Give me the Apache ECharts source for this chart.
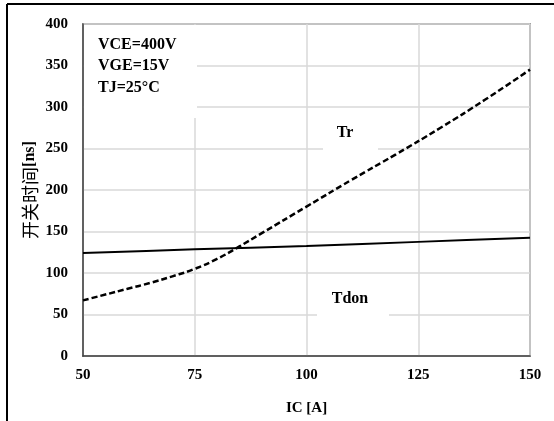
<!DOCTYPE html>
<html>
<head>
<meta charset="utf-8">
<script src="https://cdn.jsdelivr.net/npm/echarts@6/dist/echarts.min.js"></script>
<style>html,body{margin:0;padding:0;background:#fff;}#c{width:554px;height:421px;}</style>
</head>
<body>
<div id="c"></div>
<script>
// Data
var trX = [50, 55, 60, 65, 70, 75, 80, 85, 90, 100, 110, 120, 130, 140, 150];
var trY = [67, 74, 81, 88, 96, 105, 117, 132, 148, 180, 212, 243, 275, 309, 345];
var tdonX = [50, 75, 100, 125, 150];
var tdonY = [124, 128.5, 132.5, 137.5, 142.5];
var xTicks = [50, 75, 100, 125, 150];
var yTicks = [0, 50, 100, 150, 200, 250, 300, 350, 400];
var conditions = ['VCE=400V', 'VGE=15V', 'TJ=25°C'];
var labelTr = 'Tr';
var labelTdon = 'Tdon';
var yName = '开关时间';
var yUnit = '[ns]';
var xName = 'IC [A]';

function pairs(xs, ys) { return xs.map(function (x, i) { return [x, ys[i]]; }); }

var serif = '"Liberation Serif", "Times New Roman", serif';
var chart = echarts.init(document.getElementById('c'), null, { renderer: 'canvas' });
chart.setOption({
  backgroundColor: '#fff',
  animation: false,
  grid: { left: 83, top: 24, right: 24, bottom: 59, show: true, borderColor: '#595959', borderWidth: 1.5, backgroundColor: 'transparent' },
  xAxis: {
    type: 'value', min: xTicks[0], max: xTicks[xTicks.length - 1], interval: 25,
    name: xName, nameLocation: 'middle', nameGap: 45,
    nameTextStyle: { fontFamily: serif, fontWeight: 'bold', fontSize: 15, color: '#000' },
    axisLine: { lineStyle: { color: '#404040', width: 1.5 } },
    axisTick: { show: false },
    axisLabel: { fontFamily: serif, fontWeight: 'bold', fontSize: 15, color: '#000', margin: 12 },
    splitLine: { lineStyle: { color: '#d9d9d9', width: 1.5 } }
  },
  yAxis: {
    type: 'value', min: yTicks[0], max: yTicks[yTicks.length - 1], interval: 50,
    name: '{a|' + yName + '}{b|' + yUnit + '}', nameLocation: 'middle', nameGap: 44, nameRotate: 90,
    nameMoveOverlap: false,
    nameTextStyle: {
      rich: {
        a: { fontFamily: '"Noto Sans CJK SC", sans-serif', fontSize: 18, color: '#000' },
        b: { fontFamily: serif, fontWeight: 'bold', fontSize: 16, color: '#000' }
      }
    },
    axisLine: { show: true, lineStyle: { color: '#404040', width: 1.5 } },
    axisTick: { show: false },
    axisLabel: { fontFamily: serif, fontWeight: 'bold', fontSize: 15, color: '#000', margin: 15 },
    splitLine: { lineStyle: { color: '#d9d9d9', width: 1.5 } }
  },
  graphic: [
    { type: 'line', shape: { x1: 7, y1: 4, x2: 554, y2: 4 }, style: { stroke: '#000', lineWidth: 2 }, z: 10 },
    { type: 'line', shape: { x1: 7, y1: 4, x2: 7, y2: 421 }, style: { stroke: '#000', lineWidth: 2 }, z: 10 },
    { type: 'rect', shape: { x: 84, y: 25, width: 113, height: 93 }, style: { fill: '#fff' }, z: 1 },
    { type: 'rect', shape: { x: 323, y: 118, width: 55, height: 40 }, style: { fill: '#fff' }, z: 1 },
    { type: 'rect', shape: { x: 317, y: 283, width: 72, height: 40 }, style: { fill: '#fff' }, z: 1 },
    { type: 'text', left: 98, top: 34, z: 5, style: { text: conditions.join('\n'), font: 'bold 16px ' + serif, fill: '#000', lineHeight: 21.5 } },
    { type: 'text', x: 345, y: 133, z: 5, style: { text: labelTr, font: 'bold 16px ' + serif, fill: '#000', align: 'center', verticalAlign: 'middle' } },
    { type: 'text', x: 350, y: 299, z: 5, style: { text: labelTdon, font: 'bold 16px ' + serif, fill: '#000', align: 'center', verticalAlign: 'middle' } }
  ],
  series: [
    { type: 'line', data: pairs(trX, trY), smooth: 0.5, showSymbol: false, lineStyle: { color: '#000', width: 2.5, type: [6, 3] }, z: 3 },
    { type: 'line', data: pairs(tdonX, tdonY), smooth: 0.3, showSymbol: false, lineStyle: { color: '#000', width: 2 }, z: 3 }
  ]
});
</script>
</body>
</html>
